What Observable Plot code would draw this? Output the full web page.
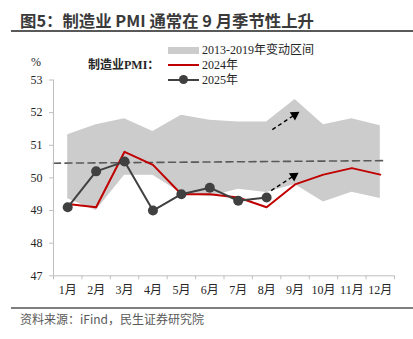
<!DOCTYPE html>
<html>
<head>
<meta charset="utf-8">
<script src="https://cdn.jsdelivr.net/npm/d3@7"></script>
<script src="https://cdn.jsdelivr.net/npm/@observablehq/plot@0.6"></script>
<style>
  html, body { margin: 0; padding: 0; background: #fff; }
  #wrap { position: relative; width: 413px; height: 339px; overflow: hidden; }
  #wrap > svg, #wrap > figure { position: absolute; left: 0; top: 0; margin: 0; }
  .abs { position: absolute; white-space: nowrap; }
  .title { left: 20px; top: 8px; font: bold 16.4px "Noto Sans CJK SC", sans-serif; color: #3a3a3a; line-height: 24px; }
  .rule1 { left: 11px; top: 30px; width: 402px; height: 2px; background: #595959; }
  .rule2 { left: 11px; top: 307px; width: 402px; height: 2px; background: #7f7f7f; }
  .source { left: 20px; top: 311px; font: 12px "Noto Sans CJK SC", sans-serif; color: #595959; line-height: 16px; }
  .leg { font: 12px "Liberation Serif", "Noto Sans CJK SC", serif; color: #262626; line-height: 14px; }
  #wrap svg text { font-family: "Liberation Serif", "Noto Sans CJK SC", serif; }
</style>
</head>
<body>
<div id="wrap">
  <div class="abs title">图5：制造业 PMI 通常在 9 月季节性上升</div>
  <div class="abs rule1"></div>
  <div class="abs leg" style="left:31px; top:55px;">%</div>
  <div class="abs" style="left:168px; top:46.5px; width:31px; height:7px; background:#cccccc;"></div>
  <div class="abs leg" style="left:202px; top:43px;">2013-2019年变动区间</div>
  <div class="abs leg" style="left:88px; top:58px; font-weight:bold;">制造业PMI：</div>
  <div class="abs" style="left:168px; top:64px; width:31px; height:2px; background:#c00000;"></div>
  <div class="abs leg" style="left:202px; top:58px;">2024年</div>
  <div class="abs" style="left:168px; top:78.5px; width:31px; height:2px; background:#404040;"></div>
  <div class="abs" style="left:179px; top:75px; width:9px; height:9px; border-radius:50%; background:#404040;"></div>
  <div class="abs leg" style="left:202px; top:72.5px;">2025年</div>
  <div class="abs rule2"></div>
  <div class="abs source">资料来源：iFind，民生证券研究院</div>
</div>
<script>
const months = [1,2,3,4,5,6,7,8,9,10,11,12];
const monthLabels = ["1月","2月","3月","4月","5月","6月","7月","8月","9月","10月","11月","12月"];
const bandHigh = [51.32, 51.63, 51.81, 51.42, 51.92, 51.77, 51.71, 51.71, 52.40, 51.63, 51.81, 51.60];
const bandLow  = [49.36, 49.0, 50.08, 50.08, 49.53, 49.42, 49.65, 49.55, 49.8, 49.26, 49.56, 49.37];
const pmi2024 = [49.2, 49.1, 50.8, 50.4, 49.5, 49.5, 49.4, 49.1, 49.8, 50.1, 50.3, 50.1];
const pmi2025 = [49.1, 50.2, 50.5, 49.0, 49.5, 49.7, 49.3, 49.4];
const trendX = [0.5, 12.2];
const trendY = [50.45, 50.53];
const arrowStartX = [8.2, 8.16];
const arrowStartY = [51.48, 49.61];
const arrowEndX = [9.07, 9.04];
const arrowEndY = [51.98, 50.11];
const yTicks = [47, 48, 49, 50, 51, 52, 53];

const band = months.map((m, i) => ({m, lo: bandLow[i], hi: bandHigh[i]}));
const s2024 = months.map((m, i) => ({m, v: pmi2024[i]}));
const s2025 = pmi2025.map((v, i) => ({m: months[i], v}));
const trend = trendX.map((x, i) => ({x, y: trendY[i]}));
const arrows = arrowStartX.map((x1, i) => ({x1, y1: arrowStartY[i], x2: arrowEndX[i], y2: arrowEndY[i]}));
const boundaries = d3.range(0.5, 13, 1);
const serif = "Liberation Serif, Noto Sans CJK SC, serif";

const chart = Plot.plot({
  width: 413,
  height: 305,
  marginLeft: 53,
  marginRight: 19,
  marginTop: 79.5,
  marginBottom: 29.7,
  x: {domain: [0.5, 12.5], axis: null},
  y: {domain: [47, 53], axis: null},
  style: {background: "transparent", fontFamily: serif, fontSize: "12px", color: "#262626", overflow: "visible"},
  marks: [
    Plot.areaY(band, {x: "m", y1: "lo", y2: "hi", fill: "#cccccc", curve: "linear"}),
    Plot.line(trend, {x: "x", y: "y", stroke: "#595959", strokeWidth: 1.6, strokeDasharray: "7,4.5"}),
    Plot.line(s2024, {x: "m", y: "v", stroke: "#c00000", strokeWidth: 2}),
    Plot.line(s2025, {x: "m", y: "v", stroke: "#404040", strokeWidth: 2}),
    Plot.dot(s2025, {x: "m", y: "v", r: 5, fill: "#404040", stroke: "none"}),
    Plot.link(arrows, {x1: "x1", y1: "y1", x2: "x2", y2: "y2", stroke: "#000", strokeWidth: 1.4, strokeDasharray: "4,3"}),
    Plot.dot(arrows, {x: "x2", y: "y2", symbol: "triangle", r: 3.6, fill: "#000", stroke: "none", rotate: 57, dx: -2.3, dy: 1.5}),
    Plot.ruleX([0.5], {y1: 47, y2: 53, stroke: "#bfbfbf", strokeWidth: 1}),
    Plot.ruleY([47], {stroke: "#bfbfbf", strokeWidth: 1}),
    Plot.axisY({ticks: yTicks, tickSize: 4, tickPadding: 7, tickFormat: d => String(d), stroke: "#bfbfbf", fill: "#262626", fontSize: 12, fontFamily: serif}),
    Plot.axisX({ticks: boundaries, tickSize: 4, tickFormat: () => "", stroke: "#bfbfbf"}),
    Plot.axisX({ticks: months, tickSize: 0, tickPadding: 10, tickFormat: d => monthLabels[d - 1], fill: "#262626", fontSize: 12, fontFamily: serif})
  ]
});
const wrap = document.getElementById("wrap");
wrap.insertBefore(chart, wrap.firstChild);
</script>
</body>
</html>
